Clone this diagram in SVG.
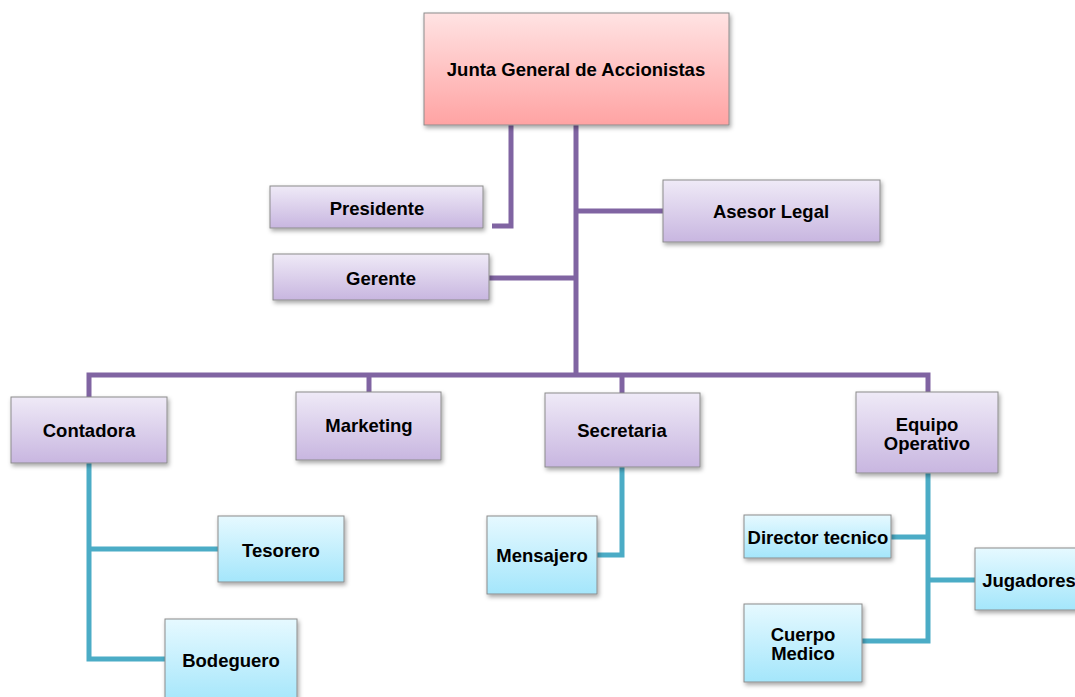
<svg xmlns="http://www.w3.org/2000/svg" width="1075" height="697" viewBox="0 0 1075 697">
<defs>
<linearGradient id="gPink" x1="0" y1="0" x2="0" y2="1"><stop offset="0" stop-color="#FFE3E3"/><stop offset="1" stop-color="#FFA3A3"/></linearGradient>
<linearGradient id="gPurple" x1="0" y1="0" x2="0" y2="1"><stop offset="0" stop-color="#EFEAF7"/><stop offset="1" stop-color="#C8B6E0"/></linearGradient>
<linearGradient id="gCyan" x1="0" y1="0" x2="0" y2="1"><stop offset="0" stop-color="#E6F9FF"/><stop offset="1" stop-color="#A4E6FB"/></linearGradient>
<filter id="sh" x="-10%" y="-10%" width="130%" height="140%"><feDropShadow dx="1.5" dy="2.5" stdDeviation="2" flood-color="#000" flood-opacity="0.35"/></filter>
<style>
.box{stroke:#8C8C8C;stroke-width:1;filter:url(#sh)}
.pk{fill:url(#gPink)}
.pu{fill:url(#gPurple)}
.cy{fill:url(#gCyan)}
.t{font-family:"Liberation Sans",Arial,sans-serif;font-weight:bold;font-size:18.5px;fill:#000;text-anchor:middle;dominant-baseline:central}
.cp{fill:none;stroke:#8064A2;stroke-width:5}
.ct{fill:none;stroke:#4BACC6;stroke-width:5}
</style>
</defs>
<rect width="1075" height="697" fill="#fff"/>
<g id="connectors">
<path class="cp" d="M511 125 V226 H492"/>
<path class="cp" d="M576 125 V376"/>
<path class="cp" d="M576 211 H663"/>
<path class="cp" d="M489 278 H576"/>
<path class="cp" d="M89 397 V375 H928 V392"/>
<path class="cp" d="M369 375 V392"/>
<path class="cp" d="M622 375 V393"/>
<path class="ct" d="M89 463 V659 H165"/>
<path class="ct" d="M89 549 H218"/>
<path class="ct" d="M622 467 V555 H597"/>
<path class="ct" d="M928 473 V641 H862"/>
<path class="ct" d="M891 537 H928"/>
<path class="ct" d="M928 580 H975"/>
</g>
<g id="junta"><rect class="box pk" x="424" y="13" width="305" height="112"/><text class="t" x="576" y="69">Junta General de Accionistas</text></g>
<g id="presidente"><rect class="box pu" x="270" y="186" width="213" height="42"/><text class="t" x="377" y="208">Presidente</text></g>
<g id="asesor"><rect class="box pu" x="663" y="180" width="217" height="62"/><text class="t" x="771" y="211">Asesor Legal</text></g>
<g id="gerente"><rect class="box pu" x="273" y="254" width="216" height="46"/><text class="t" x="381" y="278">Gerente</text></g>
<g id="contadora"><rect class="box pu" x="11" y="397" width="156" height="66"/><text class="t" x="89" y="430">Contadora</text></g>
<g id="marketing"><rect class="box pu" x="296" y="392" width="145" height="68"/><text class="t" x="369" y="425">Marketing</text></g>
<g id="secretaria"><rect class="box pu" x="545" y="393" width="155" height="74"/><text class="t" x="622" y="430">Secretaria</text></g>
<g id="equipo"><rect class="box pu" x="856" y="392" width="142" height="81"/><text class="t" x="927" y="424">Equipo</text><text class="t" x="927" y="443">Operativo</text></g>
<g id="tesorero"><rect class="box cy" x="218" y="516" width="126" height="66"/><text class="t" x="281" y="550">Tesorero</text></g>
<g id="bodeguero"><rect class="box cy" x="165" y="619" width="132" height="85"/><text class="t" x="231" y="660">Bodeguero</text></g>
<g id="mensajero"><rect class="box cy" x="487" y="516" width="110" height="78"/><text class="t" x="542" y="555">Mensajero</text></g>
<g id="director"><rect class="box cy" x="744" y="515" width="147" height="43"/><text class="t" x="818" y="537">Director tecnico</text></g>
<g id="jugadores"><rect class="box cy" x="975" y="548" width="105" height="62"/><text class="t" x="1029" y="580">Jugadores</text></g>
<g id="cuerpo"><rect class="box cy" x="744" y="604" width="118" height="78"/><text class="t" x="803" y="634">Cuerpo</text><text class="t" x="803" y="653">Medico</text></g>
</svg>
